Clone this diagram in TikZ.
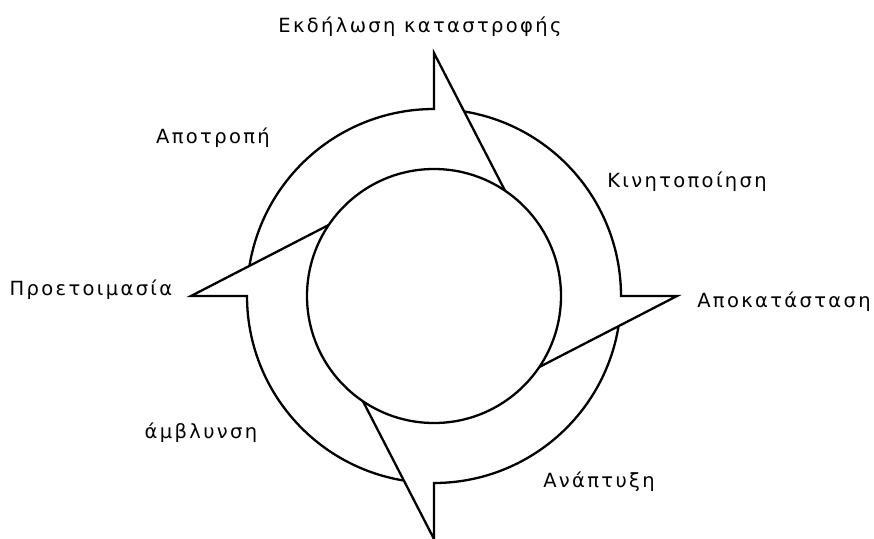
\documentclass[tikz,border=0pt]{standalone}
\usepackage{fontspec}
\setmainfont{DejaVu Sans}[LetterSpace=12]
\begin{document}
\begin{tikzpicture}[x=1pt,y=1pt,
  shape line/.style={line width=2.3pt, line join=miter, black},
  lbl/.style={anchor=base, inner sep=0pt, font=\fontsize{19.5}{23}\selectfont}]
\useasboundingbox (0,0) rectangle (874,-538);
\coordinate (C) at (434,-296);
\begin{scope}[shift={(C)}]
  \draw[shape line] (0,0) circle[radius=127];
  \foreach \a in {0,90,180,270}{
    \draw[shape line] (\a+80.7:187) arc[start angle=\a+80.7, end angle=\a, radius=187]
      -- (\a:243) -- (\a-34:127);
  }
\end{scope}
\node[lbl] (t1) at (420,-32) {Εκδήλωση καταστροφής};
\node[lbl] (t2) at (213,-143) {Αποτροπή};
\node[lbl] (t3) at (687,-187) {Κινητοποίηση};
\node[lbl] (t4) at (91,-295) {Προετοιμασία};
\node[lbl] (t5) at (784,-307) {Αποκατάσταση};
\node[lbl] (t6) at (201,-438) {άμβλυνση};
\node[lbl] (t7) at (599,-487) {Ανάπτυξη};
\end{tikzpicture}
\end{document}
